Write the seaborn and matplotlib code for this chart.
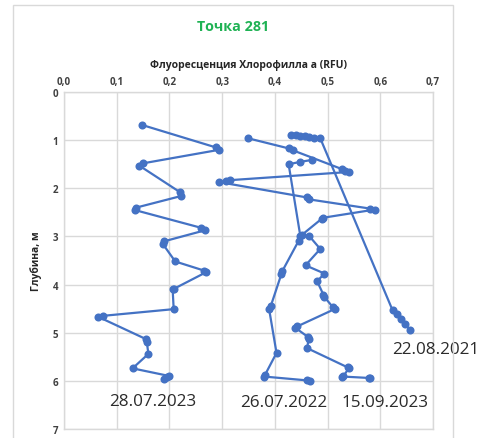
import matplotlib
matplotlib.use("Agg")
import matplotlib.pyplot as plt
from matplotlib.patches import Rectangle
import seaborn as sns
import pandas as pd

# Chlorophyll-a fluorescence (RFU) by depth (m), one profile per survey date
dates = ["28.07.2023", "26.07.2022", "15.09.2023", "22.08.2021"]

rfu_2023_07 = [0.147, 0.288, 0.294, 0.150, 0.143, 0.220, 0.222, 0.137, 0.134,
               0.260, 0.268, 0.190, 0.187, 0.211, 0.266, 0.270, 0.208, 0.206,
               0.208, 0.073, 0.065, 0.155, 0.157, 0.160, 0.130, 0.200, 0.196,
               0.189]
depth_2023_07 = [0.68, 1.15, 1.20, 1.48, 1.53, 2.08, 2.16, 2.40, 2.45,
                 2.82, 2.87, 3.10, 3.15, 3.52, 3.71, 3.74, 4.09, 4.10,
                 4.51, 4.65, 4.67, 5.13, 5.19, 5.44, 5.74, 5.90, 5.93,
                 5.96]

rfu_2022_07 = [0.470, 0.448, 0.426, 0.448, 0.445, 0.414, 0.412, 0.392, 0.389,
               0.403, 0.381, 0.379, 0.461, 0.467]
depth_2022_07 = [1.41, 1.45, 1.50, 2.98, 3.09, 3.72, 3.79, 4.45, 4.51,
                 5.42, 5.88, 5.91, 5.99, 6.01]

rfu_2023_09 = [0.349, 0.426, 0.434, 0.527, 0.533, 0.541, 0.315, 0.307, 0.294,
               0.461, 0.465, 0.580, 0.590, 0.492, 0.489, 0.452, 0.465, 0.486,
               0.458, 0.494, 0.480, 0.492, 0.494, 0.510, 0.513, 0.442, 0.439,
               0.463, 0.464, 0.461, 0.538, 0.540, 0.530, 0.528, 0.579, 0.580]
depth_2023_09 = [0.96, 1.17, 1.21, 1.60, 1.64, 1.66, 1.83, 1.85, 1.87,
                 2.19, 2.23, 2.42, 2.44, 2.61, 2.63, 2.96, 2.99, 3.26,
                 3.60, 3.77, 3.93, 4.21, 4.26, 4.47, 4.51, 4.87, 4.90,
                 5.09, 5.13, 5.32, 5.72, 5.74, 5.90, 5.91, 5.94, 5.95]

rfu_2021_08 = [0.430, 0.440, 0.448, 0.457, 0.464, 0.475, 0.486, 0.623, 0.631,
               0.639, 0.646, 0.656]
depth_2021_08 = [0.89, 0.90, 0.91, 0.92, 0.93, 0.95, 0.96, 4.53, 4.62,
                 4.72, 4.81, 4.94]

# where each profile's date is written (RFU, depth)
label_x = [0.168, 0.416, 0.609, 0.705]
label_y = [6.42, 6.43, 6.43, 5.34]

x_ticks = [0.0, 0.1, 0.2, 0.3, 0.4, 0.5, 0.6, 0.7]
x_tick_labels = ["0,0", "0,1", "0,2", "0,3", "0,4", "0,5", "0,6", "0,7"]
y_ticks = [0, 1, 2, 3, 4, 5, 6, 7]
y_tick_labels = ["0", "1", "2", "3", "4", "5", "6", "7"]

sns.set_theme(style="white")
plt.rcParams["font.family"] = ["Open Sans", "DejaVu Sans"]

blue = "#4472C4"
grid = "#D9D9D9"
text_dark = "#2B2B2B"

fig = plt.figure(figsize=(4.85, 4.39), dpi=100)
fig.patch.set_facecolor("white")
fig.patches.append(Rectangle((0.027, -0.05), 0.907, 1.036, transform=fig.transFigure,
                             fill=False, edgecolor=grid, linewidth=1.0))

ax = fig.add_axes([0.132, 0.0205, 0.761, 0.7675])

series = [(rfu_2023_07, depth_2023_07), (rfu_2022_07, depth_2022_07),
          (rfu_2023_09, depth_2023_09), (rfu_2021_08, depth_2021_08)]
for name, (xv, yv) in zip(dates, series):
    df = pd.DataFrame({"rfu": xv, "depth": yv})
    sns.lineplot(data=df, x="rfu", y="depth", sort=False, estimator=None,
                 color=blue, linewidth=1.6, marker="o", markersize=5.8,
                 markeredgewidth=0, ax=ax)

for name, lx, ly in zip(dates, label_x, label_y):
    ax.text(lx, ly, name, ha="center", va="center", fontsize=12.3,
            color=text_dark, clip_on=False)

ax.set_xlim(0, 0.7)
ax.set_ylim(7, 0)
ax.set_xticks(x_ticks, labels=x_tick_labels, fontweight="bold")
ax.set_yticks(y_ticks, labels=y_tick_labels, fontweight="bold")
ax.xaxis.tick_top()
ax.xaxis.set_label_position("top")
ax.tick_params(axis="both", length=0, labelsize=7, labelcolor="#404040", pad=4)
ax.grid(True, color=grid, linewidth=1.0)
for sp in ax.spines.values():
    sp.set_color(grid)
    sp.set_linewidth(1.0)

ax.set_xlabel("Флуоресценция Хлорофилла а (RFU)", fontsize=7.5, fontweight="bold",
              color="#262626", labelpad=6)
ax.set_ylabel("Глубина, м", fontsize=7.5, fontweight="bold", color="#262626",
              labelpad=8)

fig.text(0.48, 0.938, "Точка 281", ha="center", va="center", fontsize=10.3,
         fontweight="bold", color="#1FB254")

fig.savefig("out.png", dpi=100, facecolor="white")
